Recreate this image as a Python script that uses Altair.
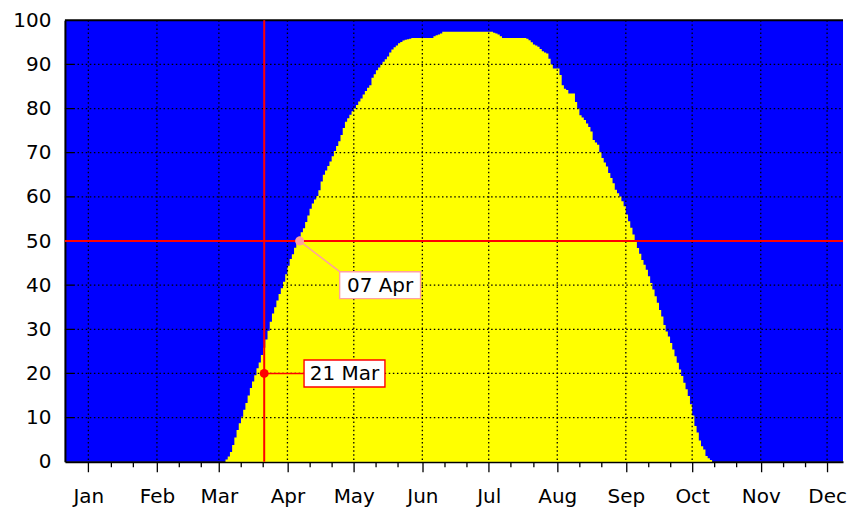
import altair as alt
import pandas as pd

# ---------------- data ----------------
# day index: 0 = 1 Jan; one value (percent) per day, starting at START_DAY
START_DAY = 61
VALUES = [
    0, 0.5, 1.2, 2.2, 3.8, 5.5, 7.2, 8.7, 10.2, 11.8,
    13.3, 15.0, 16.7, 18.2, 19.6, 21.2, 22.5, 24.2, 25.8, 27.7,
    29.7, 31.7, 33.6, 35.0, 36.5, 38.0, 39.3, 40.8, 42.5, 44.4,
    45.9, 47.0, 48.5, 49.8, 51.0, 52.0, 52.9, 54.3, 55.8, 57.3,
    58.5, 59.4, 60.2, 61.5, 63.5, 65.0, 66.0, 67.0, 68.0, 69.2,
    70.4, 71.5, 72.6, 74.0, 75.6, 77.0, 77.8, 78.6, 79.4, 80.0,
    80.8, 81.6, 82.3, 83.2, 84.0, 84.7, 85.3, 87.0, 87.8, 88.7,
    89.3, 90.0, 90.6, 91.2, 91.8, 92.7, 93.4, 93.9, 94.3, 94.8,
    95.1, 95.4, 95.6, 95.7, 95.8, 96.0, 96.0, 96.0, 96.0, 96.0,
    96.0, 96.0, 96.0, 96.0, 96.0, 96.4, 96.6, 96.8, 97.0, 97.4,
    97.4, 97.4, 97.4, 97.4, 97.4, 97.4, 97.4, 97.4, 97.4, 97.4,
    97.4, 97.4, 97.4, 97.4, 97.4, 97.4, 97.4, 97.4, 97.4, 97.4,
    97.4, 97.4, 97.2, 97.0, 96.8, 96.4, 96.0, 96.0, 96.0, 96.0,
    96.0, 96.0, 96.0, 96.0, 96.0, 96.0, 96.0, 95.8, 95.5, 95.0,
    94.5, 94.3, 94.0, 93.5, 93.0, 92.7, 92.5, 91.3, 90.0, 89.1,
    89.1, 89.1, 87.6, 85.3, 84.5, 84.2, 83.4, 83.4, 83.4, 81.5,
    80.0, 78.5, 78.0, 77.4, 76.6, 75.8, 74.8, 72.9, 72.3, 71.8,
    70.1, 68.8, 67.8, 66.9, 65.4, 64.3, 63.1, 61.6, 60.8, 60.1,
    59.0, 57.9, 56.0, 54.5, 53.0, 51.5, 50.0, 48.4, 47.1, 45.7,
    44.6, 43.5, 42.0, 40.5, 39.0, 37.5, 36.0, 34.4, 32.9, 31.0,
    29.5, 28.4, 26.9, 25.4, 23.9, 22.4, 20.9, 19.4, 17.9, 16.4,
    14.9, 13.0, 10.5, 8.1, 6.6, 4.8, 3.5, 2.8, 1.3, 0.8,
    0.4, 0,
]

MONTHS = ["Jan", "Feb", "Mar", "Apr", "May", "Jun",
          "Jul", "Aug", "Sep", "Oct", "Nov", "Dec"]
MONTH_START = [0, 31, 59, 90, 120, 151, 181, 212, 243, 273, 304, 334]
X_DOMAIN = [-10.6, 341.2]
Y_TICKS = [0, 10, 20, 30, 40, 50, 60, 70, 80, 90, 100]
Y_GRID = [10, 20, 30, 40, 60, 70, 80, 90]
Y_TOP = [100]

REF_DAY = [79.5]      # 21 Mar
REF_VALUE = [50]

ANN_LABELS = ["21 Mar", "07 Apr"]
ANN_DAYS = [79.5, 95.5]
ANN_VALUES = [20, 50]
ANN_LABEL_DAYS = [115.8, 131.9]
ANN_LABEL_VALUES = [20, 40]

# ---------------- styles ----------------
ANN_COLORS = ["#FF0000", "#FFA0A0"]
ANN_CONNECT_CORNER = [False, True]
BOX_W, BOX_H = 81, 27
BOX_PATH = f"M{-BOX_W/2},{-BOX_H/2}H{BOX_W/2}V{BOX_H/2}H{-BOX_W/2}Z"
FONT = "DejaVu Sans"
W, H = 779, 442
DOT_DASH = [1.5, 2.6]
Y_DASH = [10, 2.6] + [1.5, 2.6] * 220

MINOR = [d + k for d in MONTH_START for k in (10, 20) if d + k <= X_DOMAIN[1]]
X_TICKS = sorted(MONTH_START + MINOR)
is_major = f"indexof({MONTH_START}, datum.value) >= 0"
label_expr = f"{is_major} ? {MONTHS}[indexof({MONTH_START}, datum.value)] : ''"

xs = alt.Scale(domain=X_DOMAIN, nice=False, zero=False)
ys = alt.Scale(domain=[0, 100], nice=False, zero=True)

x_axis = alt.Axis(
    values=X_TICKS, labelExpr=label_expr, title=None, grid=False,
    tickSize={"condition": {"test": is_major, "value": 10}, "value": 5},
    labelPadding=15, labelOverlap=False, labelFlush=False, labelBound=False,
)
y_axis = alt.Axis(values=Y_TICKS, title=None, grid=False, ticks=False,
                  tickSize=0, labelPadding=14, labelOverlap=False)


def X(field):
    return alt.X(field, scale=xs, axis=x_axis)


def Y(field):
    return alt.Y(field, scale=ys, axis=y_axis)


curve = pd.DataFrame({
    "day": list(range(START_DAY, START_DAY + len(VALUES))),
    "value": VALUES,
})

area = alt.Chart(curve).mark_area(interpolate="step-after", color="#FFFF00").encode(
    x=X("day:Q"), y=Y("value:Q"),
)

grid_x = alt.Chart(pd.DataFrame({"day": MONTH_START})).mark_rule(
    color="black", strokeWidth=1.3, strokeDash=DOT_DASH
).encode(x=X("day:Q"))

grid_y = alt.Chart(pd.DataFrame({"value": Y_GRID})).mark_rule(
    color="black", strokeWidth=1.3, strokeDash=Y_DASH
).encode(
    y=Y("value:Q"),
    x=alt.value(0), x2=alt.value(W),
)

top_border = alt.Chart(pd.DataFrame({"value": Y_TOP})).mark_rule(
    color="black", strokeWidth=2
).encode(y=Y("value:Q"), x=alt.value(0), x2=alt.value(W))

vline = alt.Chart(pd.DataFrame({"day": REF_DAY})).mark_rule(
    color="#FF0000", strokeWidth=2
).encode(x=X("day:Q"))

hline = alt.Chart(pd.DataFrame({"value": REF_VALUE})).mark_rule(
    color="#FF0000", strokeWidth=2
).encode(y=Y("value:Q"))

layers = [area, grid_x, grid_y, top_border, vline, hline]

for i in range(len(ANN_LABELS)):
    c = ANN_COLORS[i]
    df = pd.DataFrame({
        "day": [ANN_DAYS[i]], "value": [ANN_VALUES[i]],
        "lday": [ANN_LABEL_DAYS[i]], "lvalue": [ANN_LABEL_VALUES[i]],
        "label": [ANN_LABELS[i]],
    })
    off = {}
    if ANN_CONNECT_CORNER[i]:
        off = {"x2Offset": -BOX_W / 2, "y2Offset": -BOX_H / 2}
    conn = alt.Chart(df).mark_rule(color=c, strokeWidth=1.5, **off).encode(
        x=X("day:Q"), y=Y("value:Q"),
        x2=alt.X2("lday:Q"), y2=alt.Y2("lvalue:Q"),
    )
    dot = alt.Chart(df).mark_circle(size=80, color=c, opacity=1).encode(
        x=X("day:Q"), y=Y("value:Q"),
    )
    box = alt.Chart(df).mark_point(
        shape=BOX_PATH, size=4, filled=True, fill="white", stroke=c,
        strokeWidth=1.4, opacity=1, fillOpacity=1, strokeOpacity=1,
    ).encode(x=X("lday:Q"), y=Y("lvalue:Q"))
    txt = alt.Chart(df).mark_text(
        font=FONT, fontSize=20, color="black", align="center", baseline="middle", dy=1
    ).encode(x=X("lday:Q"), y=Y("lvalue:Q"), text="label:N")
    layers += [conn, dot, box, txt]

chart = alt.layer(*layers).properties(
    width=W, height=H,
    padding={"left": 4, "top": 2, "right": 5, "bottom": 0},
    background="white",
).configure_view(
    stroke=None, fill="#0000FF"
).configure_axis(
    labelFont=FONT, labelFontSize=20, labelColor="black",
    domainColor="black", domainWidth=2, tickColor="black", tickWidth=1.3,
)

chart.save("out.html", embed_options={"renderer": "svg", "actions": False})
